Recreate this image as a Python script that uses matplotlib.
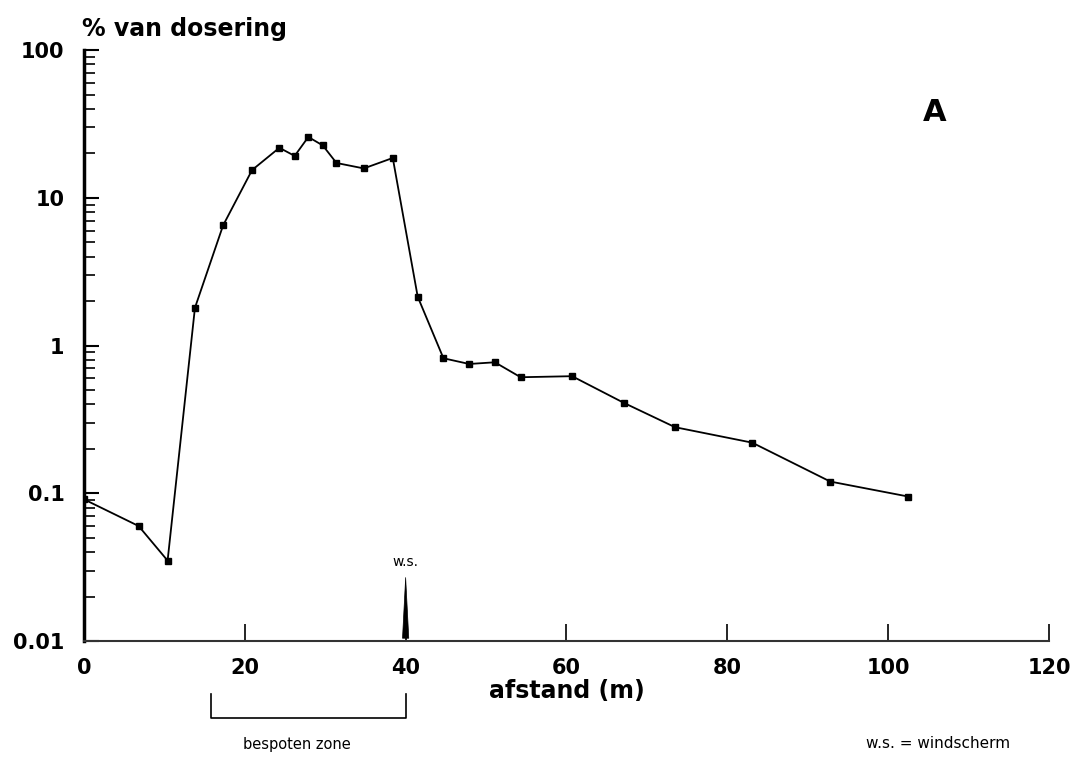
import matplotlib
matplotlib.use("Agg")
import matplotlib.pyplot as plt
from matplotlib.ticker import FixedLocator, FixedFormatter, LogLocator, NullFormatter

# afstand (m) en % van dosering
afstand = [0, 6.8, 10.4, 13.8, 17.3, 20.9, 24.3, 26.2, 27.9, 29.7, 31.4, 34.8, 38.4,
           41.5, 44.7, 47.9, 51.1, 54.3, 60.7, 67.1, 73.5, 83.1, 92.8, 102.5]
dosering = [0.091, 0.060, 0.035, 1.80, 6.5, 15.4, 21.8, 19.2, 25.8, 22.6, 17.2, 15.8, 18.6,
            2.14, 0.82, 0.75, 0.77, 0.61, 0.62, 0.41, 0.28, 0.22, 0.12, 0.095]

y_ticks = [0.01, 0.1, 1, 10, 100]
y_labels = ['0.01', '0.1', '1', '10', '100']
x_ticks = [0, 20, 40, 60, 80, 100, 120]
windscherm_x = 40
zone = [15.8, 40]

plt.rcParams['font.family'] = ['DejaVu Sans']

fig = plt.figure(figsize=(10.82, 7.64), dpi=100)
ax = fig.add_axes([0.0776, 0.161, 0.8919, 0.7735])

ax.plot(afstand, dosering, color='black', linewidth=1.3, marker='s', markersize=5,
        markerfacecolor='black', markeredgecolor='black')

ax.set_yscale('log')
ax.set_xlim(0, 120)
ax.set_ylim(0.01, 100)

ax.yaxis.set_major_locator(FixedLocator(y_ticks))
ax.yaxis.set_major_formatter(FixedFormatter(y_labels))
ax.yaxis.set_minor_locator(LogLocator(base=10, subs=range(2, 10)))
ax.yaxis.set_minor_formatter(NullFormatter())
ax.set_xticks(x_ticks)

for s in ['top', 'right']:
    ax.spines[s].set_visible(False)
ax.spines['left'].set_linewidth(2.5)
ax.spines['bottom'].set_linewidth(1.5)
ax.spines['bottom'].set_color('#333333')

ax.tick_params(axis='y', which='major', direction='in', length=11, width=1.5,
               labelsize=15, pad=14)
ax.tick_params(axis='y', which='minor', direction='in', length=8, width=1.2)
ax.tick_params(axis='x', which='major', direction='in', length=12, width=1.2,
               labelsize=15, pad=12)
for lab in ax.get_xticklabels() + ax.get_yticklabels():
    lab.set_fontweight('bold')

ax.set_xlabel('afstand (m)', fontsize=17, fontweight='bold', labelpad=1)
fig.text(0.0758, 0.962, '% van dosering', fontsize=17, fontweight='bold',
         ha='left', va='center')

ax.text(0.882, 0.895, 'A', transform=ax.transAxes, fontsize=22, fontweight='bold',
        ha='center', va='center')

# windscherm pijl
trans = ax.get_xaxis_transform()
ax.annotate('', xy=(windscherm_x, 0.112), xycoords=trans,
            xytext=(windscherm_x, 0.0), textcoords=trans,
            arrowprops=dict(arrowstyle='wedge,tail_width=0.45,shrink_factor=0.5',
                            color='black', lw=0.5))
ax.text(windscherm_x, 0.134, 'w.s.', transform=trans, fontsize=10,
        ha='center', va='center')

# bespoten zone haak
ax.plot([zone[0], zone[0], zone[1], zone[1]], [-0.09, -0.13, -0.13, -0.09],
        transform=trans, color='black', linewidth=1.2, clip_on=False)
ax.text(26.5, -0.175, 'bespoten zone', transform=trans, fontsize=10.5,
        ha='center', va='center')

fig.text(0.867, 0.027, 'w.s. = windscherm', fontsize=11, ha='center', va='center')

fig.savefig('out.png', dpi=100)
